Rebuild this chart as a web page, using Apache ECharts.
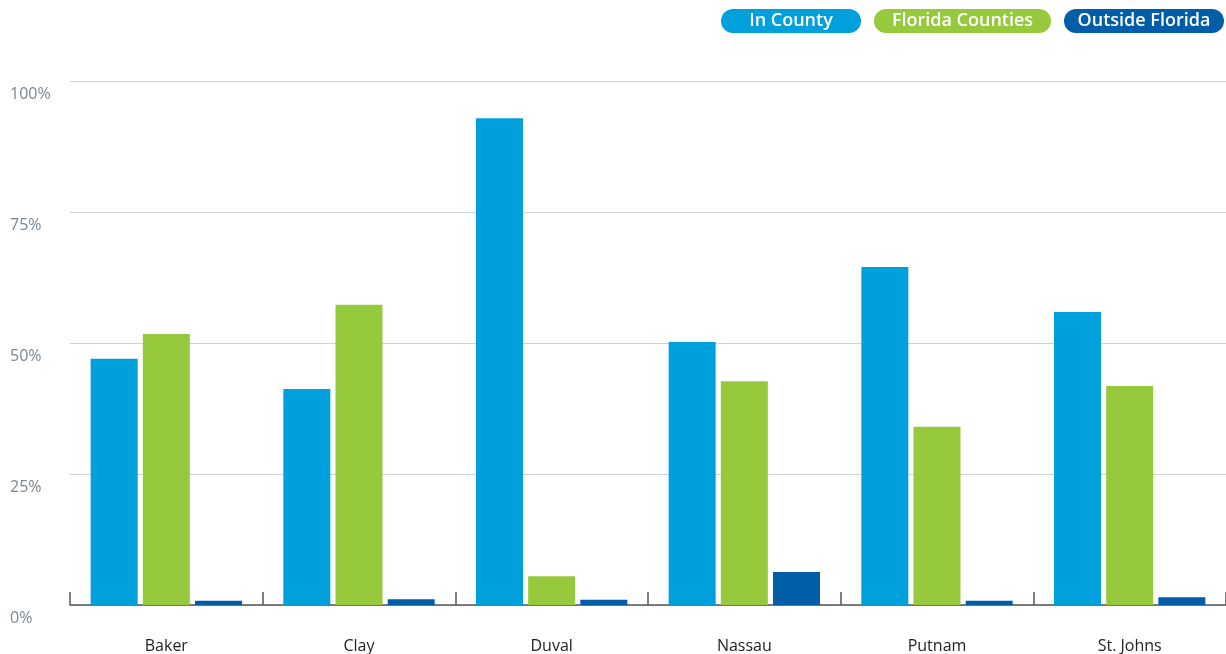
<!DOCTYPE html>
<html>
<head>
<meta charset="utf-8">
<script src="https://cdn.jsdelivr.net/npm/echarts@6/dist/echarts.min.js"></script>
<style>
  html, body { margin: 0; padding: 0; background: #fff; }
  #chart { width: 1226px; height: 654px; }
</style>
</head>
<body>
<div id="chart"></div>
<script>
// Share of trips by destination, per county
const counties = ['Baker', 'Clay', 'Duval', 'Nassau', 'Putnam', 'St. Johns'];
const inCounty = [47, 41.2, 92.9, 50.2, 64.5, 55.9];
const floridaCounties = [51.7, 57.3, 5.5, 42.7, 34.0, 41.8];
const outsideFlorida = [0.8, 1.1, 1.0, 6.3, 0.8, 1.5];
const seriesNames = ['In County', 'Florida Counties', 'Outside Florida'];
const seriesColors = ['#00a0dc', '#97c93d', '#005ea8'];
const yTicks = [0, 25, 50, 75, 100];

const font = '"Open Sans", Lato, sans-serif';
const pillWidths = [140, 177, 160];
const chart = echarts.init(document.getElementById('chart'));

const pillStyles = {};
seriesNames.forEach((n, i) => {
  pillStyles['s' + i] = {
    backgroundColor: seriesColors[i],
    color: '#fff',
    borderRadius: 12,
    width: pillWidths[i],
    align: 'center',
    padding: [3, 0, 3, 0],
    fontSize: 18,
    fontWeight: 600,
    fontFamily: font,
    lineHeight: 18
  };
});

const dataSets = [inCounty, floridaCounties, outsideFlorida];

chart.setOption({
  animation: false,
  textStyle: { fontFamily: font },
  legend: {
    top: 9,
    right: 2,
    padding: 0,
    itemWidth: 0,
    itemHeight: 0,
    itemGap: 8,
    selectedMode: false,
    data: seriesNames,
    formatter: name => '{s' + seriesNames.indexOf(name) + '|' + name + '}',
    textStyle: { rich: pillStyles, padding: 0 }
  },
  grid: { left: 70, right: 0, top: 81, bottom: 49 },
  xAxis: {
    type: 'category',
    data: counties,
    axisLine: { lineStyle: { color: '#555', width: 1.5 } },
    axisTick: { show: true, inside: true, length: 13, lineStyle: { color: '#555', width: 1.5 } },
    axisLabel: { color: '#222', fontSize: 16, margin: 33, fontFamily: font }
  },
  yAxis: {
    type: 'value',
    min: yTicks[0],
    max: yTicks[yTicks.length - 1],
    interval: 25,
    axisLine: { show: false },
    axisTick: { show: false },
    splitLine: { lineStyle: { color: '#cfd3d6', width: 1 } },
    axisLabel: {
      align: 'left',
      margin: 60,
      verticalAlign: 'top',
      padding: [5, 0, 0, 0],
      color: '#7c8790',
      fontSize: 16,
      fontFamily: font,
      formatter: v => v + '%'
    }
  },
  series: seriesNames.map((n, i) => ({
    name: n,
    type: 'bar',
    data: dataSets[i],
    barWidth: 47,
    barGap: '11%',
    itemStyle: { color: seriesColors[i] }
  }))
});
</script>
</body>
</html>
